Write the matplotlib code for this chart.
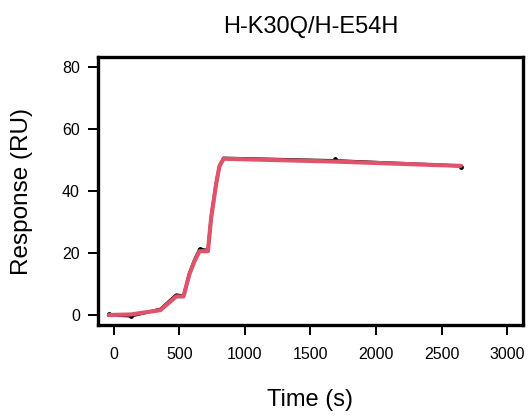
import matplotlib
matplotlib.use("Agg")
import matplotlib.pyplot as plt

plt.rcParams['font.family'] = ['Liberation Sans', 'DejaVu Sans']

title = "H-K30Q/H-E54H"
x_label = "Time (s)"
y_label = "Response (RU)"
x_ticks = [0, 500, 1000, 1500, 2000, 2500, 3000]
y_ticks = [0, 20, 40, 60, 80]

data_time = [-38, 133, 356, 476, 532, 577, 616, 654, 718, 743, 781, 806, 837, 1684, 2645]
data_resp = [0.0, -0.3, 1.9, 6.5, 6.2, 13.5, 17.8, 21.2, 20.9, 31.8, 42.6, 48.0, 50.6, 49.8, 48.1]
# spike points visible on the raw trace
spike_time = [-38, 133, 654, 1684, 2645]
spike_resp = [0.2, -0.4, 21.3, 50.4, 47.8]

# fitted curve
fit_time = [-38, 133, 356, 476, 532, 577, 616, 654, 718, 743, 781, 806, 837, 1684, 2645]
fit_resp = [0.0, 0.2, 1.6, 6.0, 6.0, 13.2, 17.4, 20.6, 20.6, 31.4, 42.4, 48.0, 50.4, 49.5, 48.1]

fig = plt.figure(figsize=(5.28, 4.18), dpi=100)
ax = fig.add_axes([0.1856, 0.2225, 0.8049, 0.6411])

ax.plot(data_time, data_resp, color='black', lw=2.2, zorder=2)
ax.scatter(spike_time, spike_resp, s=6, color='black', zorder=2)
ax.plot(fit_time, fit_resp, color='#DF536B', lw=3.0, zorder=3, solid_capstyle='round')

ax.set_xlim(-120, 3120)
ax.set_ylim(-3.2, 83.2)
ax.set_xticks(x_ticks)
ax.set_yticks(y_ticks)
ax.tick_params(axis='both', direction='out', length=7, width=1.4, labelsize=11.5, colors='black')
ax.tick_params(axis='x', pad=9)
ax.tick_params(axis='y', pad=6)
for s in ax.spines.values():
    s.set_linewidth(2.4)

ax.set_title(title, fontsize=17, pad=17)
ax.set_xlabel(x_label, fontsize=17, labelpad=19)
ax.set_ylabel(y_label, fontsize=17.5, labelpad=21)

fig.savefig("out.png", dpi=100)
